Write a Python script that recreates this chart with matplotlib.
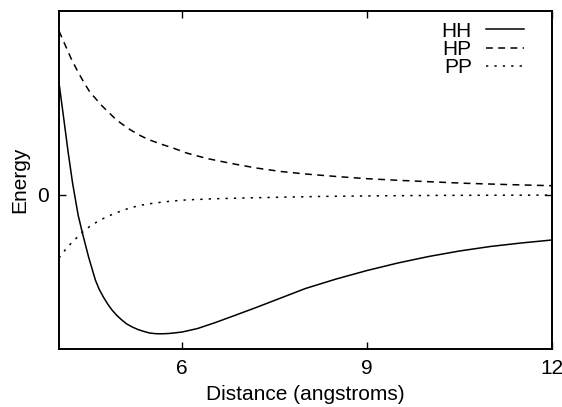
import matplotlib
matplotlib.use('Agg')
import matplotlib.pyplot as plt

# values
hh_x = [4.00, 4.08, 4.15, 4.22, 4.31, 4.38, 4.48, 4.59, 4.65, 4.72, 4.79, 4.86, 4.94, 5.02, 5.10,
        5.19, 5.28, 5.38, 5.47, 5.57, 5.67, 5.78, 5.89, 6.00, 6.25, 6.54, 6.85, 7.20, 7.60, 8.00,
        8.50, 9.00, 9.50, 10.0, 10.5, 11.0, 11.5, 12.0]
hh_y = [1.12, 0.75, 0.42, 0.12, -0.20, -0.38, -0.62, -0.85, -0.94, -1.02, -1.09, -1.15, -1.205, -1.25, -1.29,
        -1.32, -1.345, -1.365, -1.38, -1.387, -1.388, -1.385, -1.378, -1.37, -1.335, -1.275, -1.205, -1.125, -1.03, -0.935,
        -0.84, -0.755, -0.68, -0.615, -0.56, -0.515, -0.48, -0.45]

hp_x = [4.00, 4.10, 4.20, 4.30, 4.40, 4.50, 4.60, 4.70, 4.80, 4.90, 5.00, 5.15, 5.30, 5.45,
        5.65, 5.85, 6.07, 6.40, 6.80, 7.20, 7.60, 8.00, 8.50, 9.00, 9.50, 10.0, 10.6, 11.3, 12.0]
hp_y = [1.64, 1.50, 1.36, 1.24, 1.13, 1.03, 0.96, 0.89, 0.83, 0.77, 0.72, 0.655, 0.60, 0.555,
        0.51, 0.47, 0.42, 0.365, 0.315, 0.27, 0.235, 0.21, 0.185, 0.163, 0.147, 0.133, 0.117, 0.104, 0.093]

pp_x = [4.00, 4.10, 4.20, 4.30, 4.40, 4.50, 4.60, 4.75, 4.90, 5.10, 5.30, 5.55, 5.80, 6.05,
        6.50, 7.00, 7.60, 8.30, 9.20, 10.2, 11.1, 12.0]
pp_y = [-0.63, -0.55, -0.48, -0.42, -0.36, -0.315, -0.275, -0.225, -0.185, -0.14, -0.105, -0.08, -0.063, -0.05,
        -0.038, -0.03, -0.022, -0.014, -0.008, -0.004, -0.002, -0.001]

xticks = [6, 9, 12]
yticks = [0]

plt.rcParams['font.family'] = ['Liberation Sans', 'DejaVu Sans']
plt.rcParams['font.size'] = 15

fig = plt.figure(figsize=(5.62, 4.07), dpi=100)
ax = fig.add_axes([0.105, 0.1425, 0.877, 0.8305])

ax.plot(hh_x, hh_y, color='black', lw=1.1, label='HH')
ax.plot(hp_x, hp_y, color='black', lw=1.1, dashes=(4.5, 3.5), label='HP')
ax.plot(pp_x, pp_y, color='black', lw=1.1, dashes=(1.5, 4), label='PP')

ax.set_xlim(4, 12)
ax.set_ylim(-1.54, 1.84)
ax.set_xticks(xticks)
ax.set_yticks(yticks)
ax.tick_params(direction='in', top=True, right=True, length=5, width=1, pad=7)
for s in ax.spines.values():
    s.set_linewidth(1.4)

ax.set_xlabel('Distance (angstroms)', labelpad=5)
ax.set_ylabel('Energy', labelpad=6)

ax.legend(loc='upper right', bbox_to_anchor=(0.958, 0.99), frameon=False, markerfirst=False,
          handlelength=1.8, handletextpad=0.7, labelspacing=-0.03, borderaxespad=0.0, borderpad=0.35)

fig.savefig('out.png', dpi=100)
